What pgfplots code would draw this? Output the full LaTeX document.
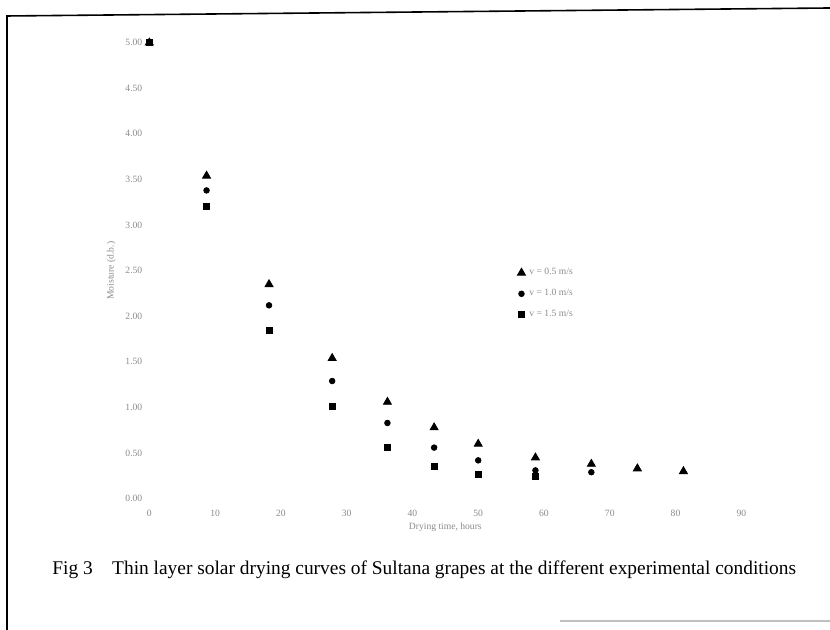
\documentclass[border=0pt]{standalone}
\usepackage{pgfplots}
\pgfplotsset{compat=1.18}
\usepackage{fontspec}
\setmainfont{Liberation Serif}

% Moisture content (dry basis) against drying time, three drying conditions
\pgfplotstableread{
t     m
0     5.00
8.7   3.54
18.2  2.35
27.8  1.54
36.2  1.06
43.3  0.78
50.0  0.60
58.7  0.45
67.2  0.38
74.2  0.33
81.2  0.30
}\condA
\pgfplotstableread{
t     m
0     5.00
8.7   3.38
18.2  2.12
27.8  1.29
36.2  0.83
43.3  0.56
50.0  0.42
58.7  0.31
67.2  0.29
}\condB
\pgfplotstableread{
t     m
0     5.00
8.7   3.21
18.2  1.85
27.8  1.01
36.2  0.56
43.3  0.35
50.0  0.27
58.7  0.24
}\condC

\begin{document}
\begin{tikzpicture}[x=0.5pt,y=0.5pt]
\path[use as bounding box] (0,0) rectangle (830,630);
\fill[white] (0,0) rectangle (830,630);
% page frame
\draw[line width=0.8pt] (7,0) -- (7,614) -- (830,622);
\draw[gray!50, line width=1.2pt] (560,9) -- (830,9);

\begin{axis}[
  at={(227,144)}, anchor=origin,
  scale only axis, width=296pt, height=228pt,
  xmin=0, xmax=90, ymin=0, ymax=5,
  axis line style={draw=none},
  tick style={draw=none},
  xtick={0,10,...,90},
  ytick={0,0.5,...,5},
  yticklabel style={/pgf/number format/fixed,/pgf/number format/zerofill,/pgf/number format/precision=2},
  /pgf/number format/assume math mode=true,
  tick label style={font=\fontsize{4.8}{5}\selectfont, text=black!45},
  xticklabel style={yshift=-2pt},
  xlabel={Drying time, hours},
  ylabel={Moisture (d.b.)},
  label style={font=\fontsize{4.8}{5}\selectfont, text=black!45},
  xlabel style={yshift=3.5pt},
  ylabel style={yshift=-2pt},
  legend style={at={(axis cs:55,2.62)}, anchor=north west, draw=none, fill=none,
    font=\fontsize{4.8}{5}\selectfont, text=black!45, row sep=1.8pt},
  legend cell align=left,
]
\addplot[only marks, mark=triangle*, mark size=2.3pt, black] table {\condA};
\addlegendentry{v = 0.5 m/s}
\addplot[only marks, mark=*, mark size=1.4pt, black] table {\condB};
\addlegendentry{v = 1.0 m/s}
\addplot[only marks, mark=square*, mark size=1.5pt, black] table {\condC};
\addlegendentry{v = 1.5 m/s}
\end{axis}

\node[anchor=west, inner sep=0pt, font=\fontsize{9.7}{11}\selectfont] at (52,60)
  {Fig 3\quad Thin layer solar drying curves of Sultana grapes at the different experimental conditions};
\end{tikzpicture}
\end{document}
